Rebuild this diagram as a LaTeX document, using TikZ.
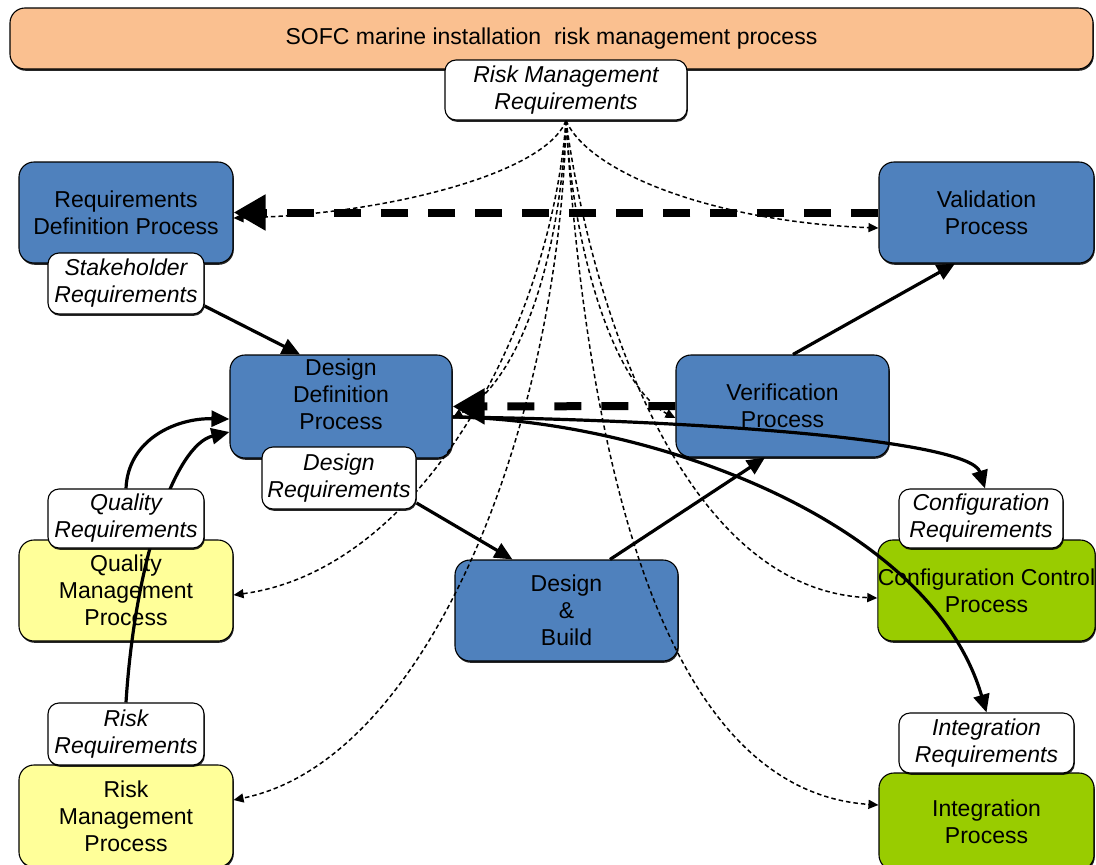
\documentclass[tikz,border=0pt]{standalone}
\usepackage{fontspec}
\setmainfont{Liberation Sans}
\usetikzlibrary{arrows.meta,shadows}

\definecolor{procblue}{RGB}{79,129,189}
\definecolor{qualyellow}{RGB}{255,255,153}
\definecolor{ctrlgreen}{RGB}{153,204,0}
\definecolor{headorange}{RGB}{250,192,144}

\pgfdeclarelayer{front}
\pgfsetlayers{main,front}

\tikzset{
  txt/.style={font=\fontsize{23}{27}\selectfont, align=center},
  boxshadow/.style={drop shadow={shadow xshift=0.8pt, shadow yshift=-1.8pt, opacity=0.85, fill=black}},
  procbox/.style={txt, draw=black, line width=1.1pt, rounded corners=15pt, inner sep=0pt, boxshadow},
  reqlabel/.style={font=\fontsize{23}{27}\selectfont\itshape, align=center, fill=white, draw=black,
                   line width=1.1pt, rounded corners=11pt, inner sep=0pt, boxshadow},
  flow/.style={line width=3.2pt, -{Triangle[length=18pt,width=16pt]}},
  feedback/.style={line width=8pt, dash pattern=on 27pt off 20pt, -{Triangle[length=32pt,width=34pt]}},
  riskflow/.style={line width=1.5pt, dash pattern=on 4.5pt off 3pt, -{Triangle[length=10pt,width=9pt]}},
}

\begin{document}
\begin{tikzpicture}[x=1pt,y=-1pt]
\useasboundingbox (0,0) rectangle (1096,865);

% header bar
\node[procbox, fill=headorange, minimum width=1083pt, minimum height=61pt] (head) at (551.5,38.5)
  {SOFC marine installation \ risk management process};

% process boxes
\node[procbox, fill=procblue, minimum width=214pt, minimum height=101pt] (reqdef) at (126,212.5)
  {Requirements\\Definition Process};
\node[procbox, fill=procblue, minimum width=215pt, minimum height=101pt] (valid) at (986.5,212.5)
  {Validation\\Process};
\node[procbox, fill=procblue, minimum width=222pt, minimum height=103pt] (dd) at (341,406.5) {};
\node[txt] (ddtext) at (341,394) {Design\\Definition\\Process};
\node[procbox, fill=procblue, minimum width=213pt, minimum height=102pt] (verif) at (782.5,406)
  {Verification\\Process};
\node[procbox, fill=qualyellow, minimum width=214pt, minimum height=101pt] (qual) at (126,590.5)
  {Quality\\Management\\Process};
\node[procbox, fill=procblue, minimum width=223pt, minimum height=101pt] (db) at (566.5,610.5)
  {Design\\\&\\Build};
\node[procbox, fill=ctrlgreen, minimum width=215pt, minimum height=101pt] (conf) at (986.5,590.5)
  {Configuration Control\\Process};
\node[procbox, fill=qualyellow, minimum width=214pt, minimum height=102pt] (risk) at (126,816)
  {Risk\\Management\\Process};
\node[procbox, fill=ctrlgreen, minimum width=215pt, minimum height=97pt] (integ) at (986.5,821.5)
  {Integration\\Process};

% requirement labels sit above the connectors
\begin{pgfonlayer}{front}
\node[reqlabel, minimum width=242pt, minimum height=60pt] (rmr) at (566,90)
  {Risk Management\\Requirements};
\node[reqlabel, minimum width=156pt, minimum height=61pt] (stake) at (126,283.5)
  {Stakeholder\\Requirements};
\node[reqlabel, minimum width=154pt, minimum height=62pt] (desreq) at (339,478)
  {Design\\Requirements};
\node[reqlabel, minimum width=156pt, minimum height=59pt] (qualreq) at (126,518.5)
  {Quality\\Requirements};
\node[reqlabel, minimum width=164pt, minimum height=59pt] (confreq) at (981,518.5)
  {Configuration\\Requirements};
\node[reqlabel, minimum width=156pt, minimum height=62pt] (riskreq) at (126,734)
  {Risk\\Requirements};
\node[reqlabel, minimum width=175pt, minimum height=60pt] (intreq) at (986.5,743)
  {Integration\\Requirements};
\end{pgfonlayer}

% risk management requirements fan out to every process
\draw[riskflow] (rmr.south) .. controls (545,175) and (380,215) .. ([yshift=-5.5pt]reqdef.east);
\draw[riskflow] (rmr.south) .. controls (590,175) and (720,222) .. ([yshift=-15.5pt]valid.west);
\draw[riskflow] (rmr.south) .. controls (560,260) and (520,380) .. ([yshift=-11.5pt]dd.east);
\draw[riskflow] (rmr.south) .. controls (575,270) and (620,390) .. ([yshift=-12pt]verif.west);
\draw[riskflow] (rmr.south) .. controls (550,330) and (420,570) .. ([yshift=-4.5pt]qual.east);
\draw[riskflow] (rmr.south) .. controls (560,420) and (430,760) .. ([yshift=16pt]risk.east);
\draw[riskflow] (rmr.south) .. controls (590,300) and (680,590) .. ([yshift=-7.5pt]conf.west);
\draw[riskflow] (rmr.south) .. controls (585,420) and (650,790) .. ([yshift=16.5pt]integ.west);

% main development flow
\draw[flow] ([yshift=-22.5pt]stake.east) -- ([xshift=-41pt]dd.north);
\draw[flow] ([yshift=-25pt]desreq.east) -- ([xshift=-54pt]db.north);
\draw[flow] ([xshift=43.5pt]db.north) -- ([xshift=-17.5pt]verif.south);
\draw[flow] ([xshift=10.5pt]verif.north) -- ([xshift=-31.5pt]valid.south);

% supporting requirements into design definition
\draw[flow] (qualreq.north) .. controls (128,440) and (175,418) .. ([yshift=-12.5pt]dd.west);
\draw[flow] (riskreq.north) .. controls (135,560) and (175,445) .. ([yshift=-25.5pt]dd.west);

% design definition out to configuration and integration
\draw[flow] ([yshift=-10.5pt]dd.east) .. controls (700,420) and (970,440) .. ([xshift=4pt]confreq.north);
\draw[flow] ([yshift=-10.5pt]dd.east) .. controls (650,420) and (930,520) .. (intreq.north);

% feedback loops
\draw[feedback] (valid.west) -- (reqdef.east);
\draw[feedback] (verif.west) -- (dd.east);
\end{tikzpicture}
\end{document}
